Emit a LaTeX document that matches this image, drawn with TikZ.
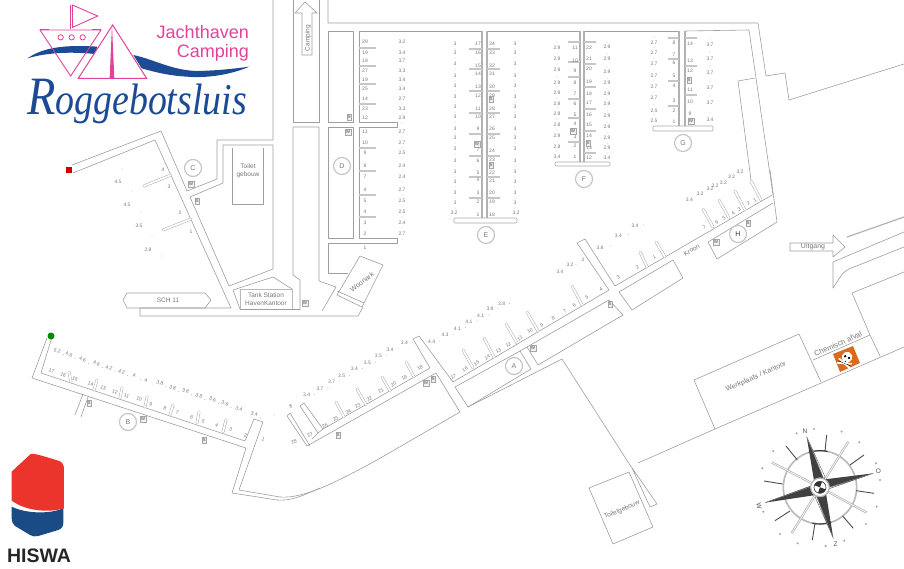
\documentclass[tikz,border=0pt]{standalone}
\usepackage{fontspec}
\setmainfont{Liberation Sans}
\newfontfamily\logoserif{Liberation Serif}
\definecolor{plan}{gray}{0.62}
\definecolor{txt}{gray}{0.47}
\definecolor{logopink}{HTML}{E2429A}
\definecolor{logoblue}{HTML}{1C4A94}
\definecolor{hisred}{HTML}{EB352C}
\definecolor{hisblue}{HTML}{1B4B85}
\definecolor{hazard}{HTML}{DC6A1E}
\newcommand{\lab}[1]{\fontsize{#1}{#1}\selectfont}
\tikzset{
  wall/.style={draw=plan,line width=.6pt,line join=round},
  pier/.style={draw=gray!60,line width=1.5pt},
  fing/.style={draw=gray!45,line width=1.5pt},
  num/.style={text=txt,inner sep=0pt,font=\lab{5}},
  big/.style={text=txt,inner sep=0pt,font=\lab{6.5}},
  boxw/.style={draw=gray!70,fill=gray!12,line width=.5pt,inner sep=.7pt,minimum width=5.5pt,minimum height=6pt,text=black!70,font=\lab{4.5}},
  ringl/.style={circle,draw=gray!45,line width=1.2pt,minimum size=17pt,inner sep=0pt,text=txt,font=\lab{7}}
}
\newcommand{\obl}[2]{\draw[gray!65,line width=2.8pt,line cap=round] #1 -- #2; \draw[white,line width=1.8pt,line cap=round] #1 -- #2;}
\begin{document}
\begin{tikzpicture}[x=1pt,y=-1pt]
\useasboundingbox (0,0) rectangle (904,569);
% ---------- north part walls
\draw[wall] (273,0) -- (273,140) -- (217,140) -- (217,179) -- (187,191) -- (161,131) -- (72,165);
\draw[wall] (273,145) -- (223,145) -- (223,183) -- (190,197) -- (229,286) -- (273,269) -- cycle;
\draw[wall] (73,173) -- (155,140) -- (231,308) -- (140,308) -- (140,316) -- (358,316) -- (363,307);
\draw[wall] (293,0) -- (293,122) -- (319,122) -- (319,0);
\draw[wall] (293,127) -- (319,127) -- (319,281) -- (336,287) -- (322,311);
\draw[wall] (293,127) -- (293,275) -- (300,280) -- (300,310);
\draw[wall] (233,290) -- (273,277) -- (292,289);
\draw[wall] (233,290) -- (240,309);
\draw[wall,draw=gray!55,line width=.9pt] (240,289) rectangle (292,309);
\draw[wall] (240,309) -- (300,309);
\draw[wall] (295,13) -- (305,2) -- (317,13) -- (312,13) -- (312,55) -- (302,55) -- (302,13) -- cycle;
\draw[wall] (328,0) -- (328,23) -- (758,23) -- (766,76) -- (785,73) -- (789,100) -- (904,64);
\draw[wall] (328,31) rectangle (353,122);
\draw[wall] (328,127) rectangle (353,238);
\draw[wall] (482,31) -- (359,31) -- (359,122) -- (397,122) -- (397,127) -- (359,127) -- (359,238) -- (397,238) -- (397,243) -- (328,243) -- (328,273) -- (348,273);
\draw[wall] (487,31) -- (580,31);
\draw[wall] (584,31) -- (679,31);
\draw[wall] (685,31) -- (749,30) -- (773,195);
\draw[wall] (755,78) -- (738,81) -- (751,180);
\draw[wall] (360,256) -- (383,265) -- (362,307) -- (337,295) -- cycle;
\draw[wall] (337,291) -- (364,303);
% piers
\foreach \x in {482,487} \draw[pier] (\x,31) -- (\x,218);
\foreach \x in {580,584} \draw[pier] (\x,31) -- (\x,162);
\foreach \x in {679,685} \draw[pier] (\x,31) -- (\x,126);
\draw[wall,rounded corners=1pt,draw=gray!70] (454,218) rectangle (517,223);
\draw[wall,rounded corners=1pt,draw=gray!70] (555,162) rectangle (610,166);
\draw[wall,rounded corners=1pt,draw=gray!70] (653,126) rectangle (713,131);
% horizontal fingers
\foreach \y in {48,66,84,104,148,171,195,217} \draw[fing] (359,\y) -- (376,\y);
\foreach \y in {49,69,91,113,134,156,177,198} {\draw[fing] (469,\y) -- (482,\y); \draw[fing] (487,\y) -- (500,\y);}
\foreach \y in {42,62,77,99,118,142} \draw[fing] (568,\y) -- (580,\y);
\foreach \y in {42,64,87,109,131,153} \draw[fing] (584,\y) -- (596,\y);
\foreach \y in {38,59,81,106} \draw[fing] (668,\y) -- (679,\y);
\foreach \y in {38,66,95} \draw[fing] (685,\y) -- (697,\y);
% ---------- south part walls
\draw[wall] (47,338) -- (32,378) -- (246,448) -- (232,493) -- (277,500) .. controls (290,501) and (300,497) .. (320,488);
\draw[wall] (52,337) -- (41,373) -- (245,441) -- (254,419) -- (263,422) -- (239,490) -- (280,497) .. controls (305,499) and (340,480) .. (377,460) -- (460,412) -- (436,373) -- (307,446) -- (287,416) -- (290,413) -- (310,446);
\draw[wall] (83,394) -- (75,415);
\draw[wall] (88,397) -- (81,417);
\draw[wall] (300,406) -- (304,403) -- (323,429) -- (318,433) -- cycle;
\draw[wall] (312,439) -- (318,433);
\draw[wall] (323,429) -- (430,368) -- (413,339) -- (419,336) -- (453,382) -- (609,290) -- (577,243) -- (585,239) -- (615,286) -- (772,195);
\draw[wall] (455,387) -- (520,351) -- (531,369) -- (468,407) -- cycle;
\draw[wall] (468,407) -- (562,359) -- (628,462) -- (657,504) -- (650,507) -- (632,468);
\draw[wall] (520,351) -- (609,300) -- (623,315) -- (538,365) -- (527,347);
\draw[wall] (619,292) -- (673,260) -- (683,278) -- (632,310) -- cycle;
\draw[wall] (773,203) -- (708,242) -- (717,259) -- (777,222) -- (770,170);
\draw[wall] (638,463) -- (715,429) -- (782,400) -- (904,347);
\draw[wall] (694,380) -- (799,334) -- (821,382);
\draw[wall] (694,380) -- (715,429);
\draw[wall] (813,360) -- (870,335) -- (880,356);
\draw[wall] (852,293) -- (904,272);
\draw[wall] (852,293) -- (870,335);
\draw[wall] (790,243) -- (833,243) -- (833,235) -- (845,247) -- (833,257) -- (833,251) -- (790,251) -- cycle;
\draw[pier,line width=1.2pt] (847,237) -- (904,217);
\draw[wall] (904,232) -- (833,262) -- (833,288) .. controls (840,278) and (842,272) .. (849,269) -- (904,247);
\draw[wall] (589,488) -- (629,472) -- (653,527) -- (613,544) -- cycle;
% oblique fingers
\foreach \a/\b/\c/\d in {336/402/344/417,357/389/366/405,382/377/390/391,406/362/414/377,463/350/473/368,484/338/494/357,506/324/517/343,527/312/538/331,572/286/582/305,640/252/647/267,656/242/665/257,703/209/713/227,719/200/729/218,735/191/745/210,751/181/761/200,144/186/171/175,163/230/191/219,69/372/71/382,97/380/94/390,122/388/120/398,147/397/145/407,173/405/170/415,199/412/197/423,226/420/223/432}
  {\obl{(\a,\b)}{(\c,\d)}}
% ---------- column labels
\foreach \y/\t in {42/29,53/19,61/18,71/27,80/19,89/25,99/14,109/23,118/12,132/11,143/10,153/9,166/8,177/7,190/4,201/5,212/4,223/3,234/2}
  \node[num] (dn\y) at (365,\y) {\t};
\node[num] (dnone) at (365,248) {1};
\foreach \y/\t in {42/3.2,53/3.4,61/3.7,71/3.3,80/3.4,89/3.4,99/2.7,109/3.3,118/2.9,132/2.7,143/2.7,153/2.5,166/2.4,177/2.4,190/2.7,201/2.5,212/2.5,223/2.4,234/2.7}
  {\node[num] (dd\y) at (402,\y) {\t}; \fill[txt] (402,\y+5) circle (.4);}
\foreach \y/\t in {44/17,53/16,66/15,74/14,87/13,96/12,109/11,117/10,129/9,150/7,161/6,173/5,180/4,193/3,202/2,215/1}
  \node[num] (el\y) at (478,\y) {\t};
\foreach \y/\t in {44/34,53/33,66/32,74/31,87/30,96/29,109/28,117/27,129/26,138/25,151/24,160/23,173/22,181/21,193/20,202/19,215/18}
  \node[num] (er\y) at (492,\y) {\t};
\foreach \y in {44,53,64,76,86,97,107,117,129,138,149,161,172,182,193,203}
  {\node[num] (ea\y) at (455,\y) {3}; \fill[txt] (455,\y+5) circle (.4);
   \node[num] (eb\y) at (515,\y) {3}; \fill[txt] (515,\y+5) circle (.4);}
\node[num] (eax) at (454,213) {3.2};
\node[num] (ebx) at (516,213) {3.2};
\foreach \y/\t in {48/11,61/10,71/9,83/8,94/7,104/6,115/5,124/4,137/3,146/2,157/1}
  \node[num] (fl\y) at (575,\y) {\t};
\foreach \y/\t in {48/22,59/21,69/20,82/19,94/18,103/17,115/16,125/15,136/14,148/13,158/12}
  \node[num] (fr\y) at (589,\y) {\t};
\foreach \y/\t in {48/2.9,59/2.9,70/2.9,83/2.9,93/2.9,104/2.8,114/2.9,125/2.8,136/2.9,147/2.8,157/3.4}
  {\node[num] (fa\y) at (557,\y) {\t}; \fill[txt] (557,\y-6) circle (.4);}
\foreach \y/\t in {47/2.9,59/2.9,72/2.9,83/2.9,94/2.9,104/2.9,116/2.9,127/2.9,138/2.9,148/2.9,158/3.4}
  {\node[num] (fb\y) at (607,\y) {\t}; \fill[txt] (607,\y-5) circle (.4);}
\foreach \y/\t in {43/8,55/7,63/6,76/5,86/4,101/3,111/2,122/1}
  \node[num] (gl\y) at (674,\y) {\t};
\foreach \y/\t in {44/14,61/13,71/12,90/11,102/10,114/9}
  \node[num] (gr\y) at (690,\y) {\t};
\foreach \y/\t in {43/2.7,53/2.7,64/2.7,76/2.7,87/2.7,98/2.7,111/2.5,121/2.5}
  {\node[num] (ga\y) at (654,\y) {\t}; \fill[txt] (654,\y-6) circle (.4);}
\foreach \y/\t in {45/3.7,59/3.7,73/3.7,88/3.7,103/3.7,120/3.4}
  {\node[num] (gb\y) at (710,\y) {\t}; \fill[txt] (710,\y-7) circle (.4);}
% C labels
\foreach \x/\y/\t in {163/170/4,169/187/3,180/213/2,191/232/1,118/182/4.5,127/205/4.5,139/226/3.5,148/250/2.8}
  \node[num] (c\x) at (\x,\y) {\t};
\foreach \x/\y in {122/169,132/191,141/212,152/235,162/256} \fill[txt] (\x,\y) circle (.4);
% B labels (zoom coordinates)
\begin{scope}[shift={(0,320)},x=.3333pt,y=-.3333pt]
\foreach \x/\y/\t in {155/153/17,190/165/16,225/178/15,272/193/14,310/203/13,345/216/12,380/228/11,418/238/10,452/252/9,495/265/8,532/278/7,575/292/6,610/303/5,650/316/4,692/328/3,737/345/2,790/358/1}
  \node[num,rotate=-20] (bn\x) at (\x,\y) {\t};
\foreach \x/\y/\t in {172/92/5.2,207/103/4.6,248/118/4.6,290/130/4.6,327/143/4.2,365/155/4.2,403/167/4,438/180/4,480/188/3.8,518/203/3.8,557/213/3.8,597/227/3.8,638/238/3.6,675/250/3.6,717/267/3.4,763/282/3.4}
  {\node[num,rotate=-20] (bd\x) at (\x,\y) {\t}; \fill[txt] (\x+18,\y+12) circle (1.2);}
\end{scope}
% A/AB labels
\begin{scope}[shift={(270,300)},x=.3333pt,y=-.3333pt]
\foreach \x/\y/\t in {72/425/28,120/405/27,165/378/26,197/357/25,235/335/24,263/317/23,298/296/22,333/273/21,370/253/20,403/233/19,450/203/18,62/318/8,550/230/17,585/208/16,620/190/15,652/172/14,685/152/13,715/135/12,750/115/11,780/93/10,815/75/9,850/55/8,885/35/7}
  \node[num,rotate=30] (an\x) at (\x,\y) {\t};
\foreach \x/\y/\t in {110/285/3.4,150/265/3.7,185/245/3.7,215/228/3.5,253/207/3.4,292/188/3.5,325/167/3.5,360/148/3.4,403/128/3.4,485/125/4.4,525/105/4.3,562/85/4.1,597/65/4.1,632/47/4.1,660/27/3.9,695/12/3.8}
  {\node[num] (ad\x) at (\x,\y) {\t}; \fill[txt] (\x+24,\y-2) circle (1.2);}
\fill[txt] (12,345) circle (1.2);
\end{scope}
\begin{scope}[shift={(560,170)},x=.3333pt,y=-.3333pt]
\foreach \x/\y/\t in {43/405/6,80/382/5,123/358/4,175/322/3,232/293/2,283/263/1,433/172/7,470/158/6,492/145/5,520/130/4,538/117/3,565/100/2,585/90/1}
  \node[num,rotate=30] (hn\x) at (\x,\y) {\t};
\foreach \x/\y/\t in {0/305/3.4,30/285/3.2,68/268/3,120/232/3.8,175/198/3.4,225/168/3.4,388/88/3.4,420/72/3.2,450/55/3.2,465/47/3.2,490/38/3.2,515/20/3.2,540/5/3.2}
  \node[num] (hd\x) at (\x,\y) {\t};
\foreach \x/\y in {48/283,153/228,205/193,250/165} \fill[txt] (\x,\y) circle (1.2);
\node[big,rotate=30] (kroon) at (395,240) {Kroon};
\end{scope}
% ---------- letter rings
\node[ringl] (ringc) at (193,168) {C};
\node[ringl] (ringd) at (342,166) {D};
\node[ringl] (ringe) at (486,235) {E};
\node[ringl] (ringf) at (584,179) {F};
\node[ringl] (ringg) at (683,143) {G};
\node[ringl,text=black!80] (ringh) at (738,234) {H};
\node[ringl] (ringa) at (514,366) {A};
\node[ringl] (ringb) at (128,422) {B};
% ---------- W / S boxes
\foreach \x/\y in {348/132,477/144,573/131,691/121,191/184,305/303,143/419,426/383,533/348,716/242}
  \node[boxw] (bw\x) at (\x,\y) {W};
\foreach \x/\y in {349/117,491/99,491/165,588/143,689/80,197/201,89/403,204/440,433/379,338/435,610/304,748/223}
  \node[boxw,minimum width=4pt,inner sep=.4pt] (bs\x) at (\x,\y) {S};
% ---------- named buildings
\node[big,align=center] (toilet) at (248,171) {Toilet\\[1.5pt]gebouw};
\draw[wall] (232,148) -- (232,204) -- (263,204) -- (263,148);
\draw[wall] (123,300) -- (127,293) -- (205,293) -- (211,300) -- (205,308) -- (127,308) -- cycle;
\node[big] (sch) at (168,300) {SCH 11};
\node[big,align=center] (tank) at (266,299) {Tank Station\\[1.5pt]HavenKantoor};
\node[big,rotate=90] (camping) at (308,38) {Camping};
\node[big,rotate=37,font=\lab{7}] (woonark) at (362,282) {Woonark};
\node[big,font=\lab{7}] (uitgang) at (813,247) {Uitgang};
\node[big,rotate=24,font=\lab{7}] (werk) at (756,377) {Werkplaats / Kantoor};
\node[big,rotate=24,font=\lab{7.5}] (chem) at (838,344) {Chemisch afval};
\node[big,rotate=23,font=\lab{6.5}] (toiletg) at (622,510) {Toiletgebouw};
% ---------- hazard
\fill[hazard] (833,354) -- (853,346) -- (860,363) -- (840,372) -- cycle;
\begin{scope}[shift={(846.5,358.5)},rotate=-23]
\draw[white,line width=1.8pt,line cap=round] (-6.5,3) -- (6.5,7.5);
\draw[white,line width=1.8pt,line cap=round] (6.5,3) -- (-6.5,7.5);
\draw[black,line width=.4pt] (-6.5,5.2) -- (6.5,5.2);
\fill[white] (0,-1.5) circle (5.3);
\fill[white] (-2.8,1) rectangle (2.8,5);
\fill[black] (-2.2,-1.5) circle (1.3) (2.2,-1.5) circle (1.3) (-.5,2.6) rectangle (.5,3.4);
\end{scope}
% ---------- start/end markers
\fill[red!80!black] (66,167.5) rectangle (72,173.5);
\fill[green!55!black] (51,336) circle (3.5);
% ---------- logo (zoom coordinates)
\begin{scope}[x=.3333pt,y=-.3333pt]
\fill[logoblue] (82,175) .. controls (120,150) and (170,132) .. (292,140) -- (285,162) .. controls (225,156) and (150,155) .. (82,175) -- cycle;
\fill[logoblue] (400,165) .. controls (470,180) and (530,220) .. (620,212) .. controls (670,210) and (710,205) .. (748,200) .. controls (690,225) and (620,235) .. (560,230) .. controls (510,227) and (470,218) .. (425,205) -- cycle;
\draw[logopink,line width=.9pt] (120,90) -- (303,90) -- (212,228) -- cycle;
\draw[logopink,line width=1.3pt] (120,88) -- (148,88) (275,88) -- (303,88);
\foreach \x in {182,215,248} \draw[logopink,line width=.8pt] (\x,112) circle (8);
\draw[logopink,line width=.9pt] (212,15) -- (212,88);
\draw[logopink,line width=.9pt] (217,15) -- (293,48) -- (218,82) -- cycle;
\fill[white] (338,75) -- (235,235) -- (440,235) -- cycle;
\draw[logopink,line width=1pt,line join=miter] (338,75) -- (235,235) -- (440,235) -- cycle;
\fill[logopink] (336,75) -- (329,235) -- (343,235) -- cycle;
\end{scope}
\node[anchor=east,inner sep=0pt,text=logopink,font=\lab{18}] (jacht) at (249,32) {Jachthaven};
\node[anchor=east,inner sep=0pt,text=logopink,font=\lab{18}] (camp) at (249,52.5) {Camping};
\node[anchor=base west,inner sep=0pt,text=logoblue] (rogge) at (27,115) {\scalebox{.86}[1]{\logoserif\itshape\fontsize{54}{54}\selectfont R\fontsize{44}{44}\selectfont oggebotsluis}};
% ---------- HISWA
\begin{scope}[shift={(0,440)},x=.3333pt,y=-.3333pt]
\fill[hisred] (35,95) -- (92,42) .. controls (100,40) and (110,42) .. (178,63) .. controls (188,68) and (192,75) .. (192,88) -- (192,205) .. controls (150,218) and (80,215) .. (35,182) -- cycle;
\fill[hisblue] (35,200) .. controls (80,222) and (150,222) .. (190,205) -- (190,248) .. controls (190,260) and (185,266) .. (175,270) -- (115,288) .. controls (105,291) and (98,289) .. (90,285) -- (45,258) .. controls (38,252) and (35,245) .. (35,235) -- cycle;
\end{scope}
\node[inner sep=0pt,text=black!85,font=\bfseries\lab{19.5}] (hiswa) at (39,556) {HISWA};
% ---------- compass (zoom coordinates)
\begin{scope}[shift={(560,400)},x=.3333pt,y=-.3333pt]
\draw[gray!55,line width=1.6pt] (780,262) circle (110);
\draw[black!75,line width=1.2pt] (780,262) ++(72:110) arc (72:102:110);
\draw[black!75,line width=1.2pt] (780,262) ++(252:110) arc (252:282:110);
\foreach \a/\b/\c/\d in {800/105/795/155,678/138/712/180,912/165/870/195,612/243/668/252,942/280/888/272,645/362/690/333,880/385/848/348,757/420/765/370}
  \draw[black!70,line width=.9pt] (\a,\b) -- (\c,\d);
\foreach \a/\b in {865/125,920/338,695/400,635/187}
  \draw[gray!60,line width=2.2pt] (780,262) -- (\a,\b);
\foreach \a/\b in {865/125,920/338,695/400,635/187}
  \draw[white,line width=.7pt] (780,262) -- (\a,\b);
\fill[black!75] (740,110) -- (792,238) -- (762,242) -- cycle;
\draw[black!60,fill=white,line width=.4pt] (740,110) -- (792,238) -- (795,230) -- cycle;
\fill[black!75] (940,220) -- (802,268) -- (795,238) -- cycle;
\draw[black!60,fill=white,line width=.4pt] (940,220) -- (802,268) -- (808,262) -- cycle;
\fill[black!75] (820,415) -- (768,285) -- (798,280) -- cycle;
\draw[black!60,fill=white,line width=.4pt] (820,415) -- (768,285) -- (765,290) -- cycle;
\fill[black!75] (615,308) -- (760,255) -- (768,285) -- cycle;
\draw[black!60,fill=white,line width=.4pt] (615,308) -- (760,255) -- (752,260) -- cycle;
\fill[white] (780,262) circle (28);
\draw[gray!60,line width=1.2pt] (780,262) circle (28);
\draw[black!80,line width=.6pt] (780,262) circle (18);
\fill[black!80] (780,262) -- ++(20:18) arc (20:110:18) -- cycle;
\fill[black!80] (780,262) -- ++(200:18) arc (200:290:18) -- cycle;
\foreach \a/\b in {710/100,762/87,845/95,898/127,948/190,960/240,950/320,918/372,853/422,797/438,713/430,660/402,610/335,607/205,640/153}
  \fill[gray!70] (\a,\b) circle (3.5);
\node[inner sep=0pt,text=black!70,font=\lab{6.5}] (cn) at (735,93) {N};
\node[inner sep=0pt,text=black!70,font=\lab{6.5}] (co) at (955,215) {O};
\node[inner sep=0pt,text=black!70,font=\lab{6.5}] (cz) at (827,432) {Z};
\node[inner sep=0pt,text=black!70,font=\lab{6.5},rotate=-80] (cw) at (597,317) {W};
\end{scope}
\end{tikzpicture}
\end{document}
